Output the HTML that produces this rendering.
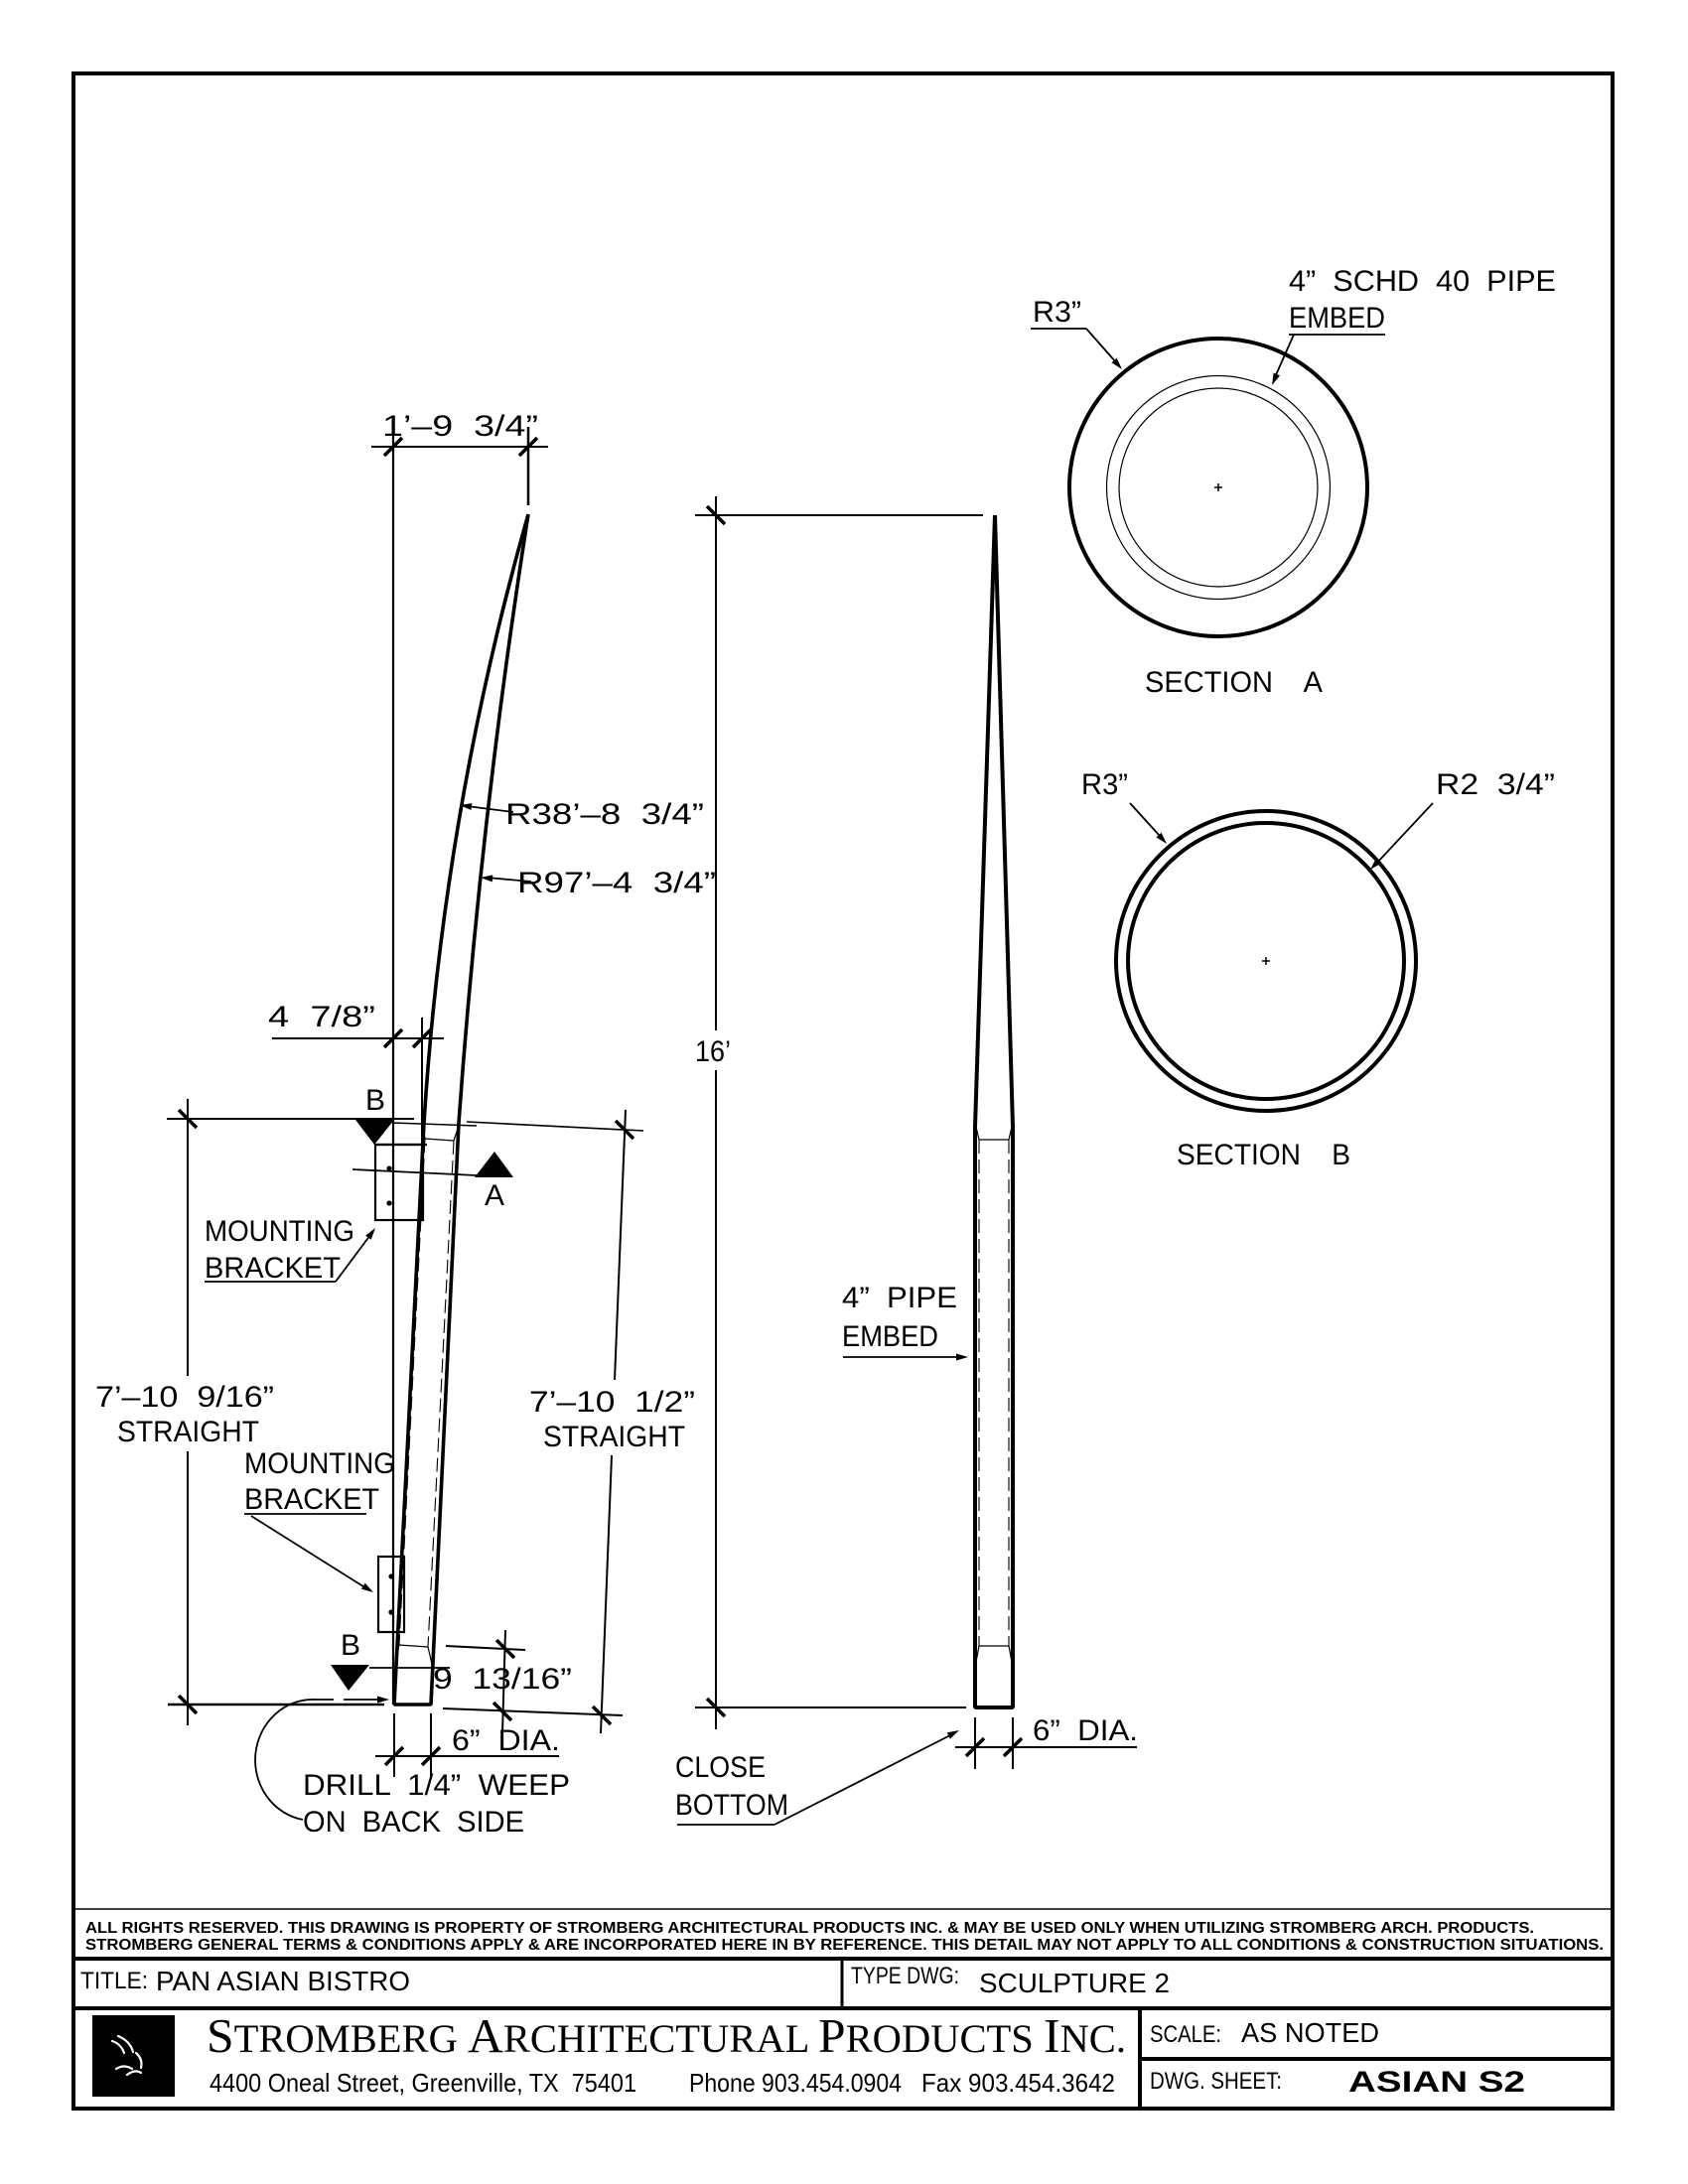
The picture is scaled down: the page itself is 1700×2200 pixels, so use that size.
<!DOCTYPE html>
<html><head><meta charset="utf-8"><style>
html,body{margin:0;padding:0;background:#fff;}
svg{display:block;}
.t{font-family:"Liberation Sans",sans-serif;font-size:30px;fill:#000;stroke:none;white-space:pre;}
.tb{font-family:"Liberation Sans",sans-serif;fill:#000;stroke:none;white-space:pre;}
</style></head><body>
<svg width="1700" height="2200" viewBox="0 0 1700 2200" xmlns="http://www.w3.org/2000/svg" xml:space="preserve">
<rect width="1700" height="2200" fill="#fff"/>
<g fill="none" stroke="#000" stroke-width="2">

<!-- Border and title block -->
<rect x="74" y="74" width="1550" height="2050" stroke-width="4"/>
<line x1="74" y1="1923" x2="1624" y2="1923" stroke-width="1.6"/>
<line x1="74" y1="1973" x2="1624" y2="1973" stroke-width="4"/>
<line x1="74" y1="2023" x2="1624" y2="2023" stroke-width="4"/>
<line x1="848" y1="1973" x2="848" y2="2023" stroke-width="3"/>
<line x1="1148" y1="2023" x2="1148" y2="2124" stroke-width="4"/>
<line x1="1148" y1="2074" x2="1624" y2="2074" stroke-width="4"/>

<!-- ============ LEFT DRAWING ============ -->
<line x1="396" y1="430" x2="396" y2="1717" stroke-width="2.2"/>
<line x1="374" y1="450" x2="552" y2="450"/>
<line x1="532" y1="430" x2="532" y2="509" stroke-width="2.5"/>
<line x1="387" y1="459" x2="405" y2="441" stroke-width="3.5"/>
<line x1="523" y1="459" x2="541" y2="441" stroke-width="3.5"/>

<path d="M 532 518 A 2907 2907 0 0 0 427 1131 L 397 1717 L 434 1717 L 462 1131 A 7311 7311 0 0 1 532 518" stroke-width="3.6" stroke-linejoin="bevel"/>
<line x1="395" y1="1131" x2="480" y2="1134" stroke-width="1.4"/>
<line x1="470" y1="1130" x2="648" y2="1139" stroke-width="1.6"/>
<line x1="426" y1="1136" x2="428" y2="1147" stroke-width="1.2"/>
<line x1="461" y1="1137" x2="457" y2="1149" stroke-width="1.2"/>
<line x1="428" y1="1147" x2="457" y2="1149" stroke-width="1.2"/>
<line x1="428" y1="1147" x2="402" y2="1657" stroke-width="1.1" stroke-dasharray="14,6"/>
<line x1="457" y1="1149" x2="431" y2="1659" stroke-width="1.1" stroke-dasharray="14,6"/>
<line x1="402" y1="1657" x2="431" y2="1659" stroke-width="1.2"/>
<line x1="402" y1="1657" x2="398" y2="1676" stroke-width="1.2"/>
<line x1="431" y1="1659" x2="435" y2="1676" stroke-width="1.2"/>

<!-- 4 7/8" dim -->
<line x1="274" y1="1046" x2="447" y2="1046"/>
<line x1="425" y1="1025" x2="425" y2="1229"/>
<line x1="387" y1="1055" x2="405" y2="1037" stroke-width="3.5"/>
<line x1="416" y1="1055" x2="434" y2="1037" stroke-width="3.5"/>

<!-- 7'-10 9/16" dim -->
<line x1="168" y1="1127" x2="417" y2="1127"/>
<line x1="169" y1="1717" x2="387" y2="1717" stroke-width="2.4"/>
<line x1="189" y1="1107" x2="189" y2="1386"/>
<line x1="189" y1="1462" x2="189" y2="1738"/>
<line x1="180" y1="1118" x2="198" y2="1136" stroke-width="3.5"/>
<line x1="180" y1="1708" x2="198" y2="1726" stroke-width="3.5"/>

<!-- 7'-10 1/2" dim -->
<line x1="630" y1="1118" x2="619" y2="1390"/>
<line x1="616" y1="1466" x2="605" y2="1746"/>
<line x1="620" y1="1129" x2="638" y2="1147" stroke-width="3.5"/>
<line x1="597" y1="1719" x2="615" y2="1737" stroke-width="3.5"/>

<!-- 9 13/16" dim -->
<line x1="449" y1="1658" x2="529" y2="1662"/>
<line x1="446" y1="1721" x2="627" y2="1728"/>
<line x1="509" y1="1642" x2="506" y2="1746"/>
<line x1="500" y1="1652" x2="518" y2="1670" stroke-width="3.5"/>
<line x1="497" y1="1715" x2="515" y2="1733" stroke-width="3.5"/>

<!-- 6" DIA left -->
<line x1="397" y1="1726" x2="397" y2="1790"/>
<line x1="434" y1="1726" x2="434" y2="1790"/>
<line x1="378" y1="1769" x2="563" y2="1769"/>
<line x1="388" y1="1778" x2="406" y2="1760" stroke-width="3.5"/>
<line x1="425" y1="1778" x2="443" y2="1760" stroke-width="3.5"/>

<!-- brackets -->
<rect x="378" y="1153" width="48" height="76" stroke-width="2.2"/>
<line x1="378" y1="1153" x2="430" y2="1153" stroke-width="2.2"/>
<rect x="381" y="1568" width="26" height="76" stroke-width="2.2"/>

<!-- section lines -->
<line x1="372" y1="1680" x2="453" y2="1680" stroke-width="1.8"/>
<line x1="355" y1="1178" x2="480" y2="1184" stroke-width="1.8"/>

<!-- leaders -->
<line x1="517" y1="818" x2="470" y2="812" stroke-width="1.8"/>
<line x1="535" y1="888" x2="490" y2="884" stroke-width="1.8"/>
<line x1="206" y1="1291" x2="338" y2="1291" stroke-width="1.8"/>
<line x1="338" y1="1291" x2="373" y2="1244" stroke-width="1.8"/>
<line x1="246" y1="1525" x2="369" y2="1525" stroke-width="1.8"/>
<line x1="253" y1="1527" x2="369" y2="1600" stroke-width="1.8"/>
<path d="M 305 1833 A 58 61 0 0 1 318 1712 L 336 1712 M 346 1712 L 384 1712" stroke-width="1.8"/>

<!-- ============ MIDDLE DRAWING ============ -->
<path d="M 1002 519 L 982 1135 L 982 1720 L 1020 1720 L 1020 1135 Z" stroke-width="4" stroke-linejoin="bevel"/>
<line x1="983" y1="1135" x2="986" y2="1148" stroke-width="1.2"/>
<line x1="1019" y1="1135" x2="1016" y2="1148" stroke-width="1.2"/>
<line x1="986" y1="1148" x2="1016" y2="1148" stroke-width="1.2"/>
<line x1="986" y1="1148" x2="986" y2="1658" stroke-width="1.1" stroke-dasharray="14,6"/>
<line x1="1016" y1="1148" x2="1016" y2="1658" stroke-width="1.1" stroke-dasharray="14,6"/>
<line x1="986" y1="1658" x2="1016" y2="1658" stroke-width="1.2"/>
<line x1="986" y1="1658" x2="983" y2="1674" stroke-width="1.2"/>
<line x1="1016" y1="1658" x2="1019" y2="1674" stroke-width="1.2"/>

<!-- 16' dim -->
<line x1="700" y1="519" x2="990" y2="519"/>
<line x1="700" y1="1720" x2="973" y2="1720"/>
<line x1="721" y1="500" x2="721" y2="1038"/>
<line x1="721" y1="1078" x2="721" y2="1742"/>
<line x1="712" y1="510" x2="730" y2="528" stroke-width="3.5"/>
<line x1="712" y1="1711" x2="730" y2="1729" stroke-width="3.5"/>

<!-- 6" DIA middle -->
<line x1="982" y1="1730" x2="982" y2="1782"/>
<line x1="1020" y1="1730" x2="1020" y2="1782"/>
<line x1="962" y1="1760" x2="1145" y2="1760"/>
<line x1="973" y1="1769" x2="991" y2="1751" stroke-width="3.5"/>
<line x1="1011" y1="1769" x2="1029" y2="1751" stroke-width="3.5"/>

<line x1="849" y1="1367" x2="965" y2="1367" stroke-width="1.8"/>
<line x1="682" y1="1838" x2="780" y2="1838" stroke-width="1.8"/>
<line x1="780" y1="1838" x2="957" y2="1748" stroke-width="1.8"/>

<!-- ============ SECTIONS ============ -->
<circle cx="1227" cy="491" r="150" stroke-width="4"/>
<circle cx="1227" cy="491" r="112.5" stroke-width="1.2"/>
<circle cx="1227" cy="491" r="100" stroke-width="1.2"/>
<line x1="1223" y1="491" x2="1231" y2="491" stroke-width="1.5"/>
<line x1="1227" y1="487" x2="1227" y2="495" stroke-width="1.5"/>
<line x1="1038" y1="331" x2="1094" y2="331" stroke-width="1.8"/>
<line x1="1094" y1="331" x2="1124" y2="365" stroke-width="1.8"/>
<line x1="1298" y1="337" x2="1395" y2="337" stroke-width="1.8"/>
<line x1="1303" y1="337" x2="1284" y2="380" stroke-width="1.8"/>

<circle cx="1275" cy="968" r="151" stroke-width="4"/>
<circle cx="1275" cy="968" r="139" stroke-width="4"/>
<line x1="1271" y1="968" x2="1279" y2="968" stroke-width="1.5"/>
<line x1="1275" y1="964" x2="1275" y2="972" stroke-width="1.5"/>
<line x1="1138" y1="809" x2="1168" y2="842" stroke-width="1.8"/>
<line x1="1443" y1="809" x2="1386" y2="870" stroke-width="1.8"/>
</g>

<g fill="#000" stroke="none">
<polygon points="358,1128 397,1128 377,1153"/>
<polygon points="333,1677 372,1677 351,1703"/>
<polygon points="478,1186 517,1186 498,1160"/>
<circle cx="392" cy="1177" r="2.6"/>
<circle cx="392" cy="1212" r="2.6"/>
<circle cx="394" cy="1588" r="2.6"/>
<circle cx="394" cy="1624" r="2.6"/>
<polygon points="463,811 475.4,809.1 474.4,816"/>
<polygon points="484,884 496.3,881.4 495.7,888.4"/>
<polygon points="378,1237 373.7,1248.7 368.1,1244.6"/>
<polygon points="376,1604 363.9,1600.6 367.7,1594.6"/>
<polygon points="392,1712 380,1708.5 380,1715.5"/>
<polygon points="975,1367 963,1363.5 963,1370.5"/>
<polygon points="966,1743 956.9,1751.6 953.7,1745.3"/>
<polygon points="1130,372 1119.5,365.3 1124.7,360.7"/>
<polygon points="1281,388 1282.6,375.6 1289,378.4"/>
<polygon points="1175,850 1164.4,843.4 1169.6,838.8"/>
<polygon points="1380,876 1385.7,864.9 1390.8,869.7"/>
<rect x="93" y="2030" width="83" height="82"/>
</g>
<g fill="none" stroke="#fff" stroke-width="2.2" stroke-linecap="round">
<path d="M 113 2056 q 9 3 12 12"/>
<path d="M 119 2051 q 12 5 15 16"/>
<path d="M 137 2068 q 7 6 5 15"/>
<path d="M 117 2084 q 8 -5 16 0"/>
<path d="M 128 2090 q 8 -6 14 -2"/>
</g>

<!-- CAD text -->
<g>
<text class="t" x="385" y="439" textLength="157" lengthAdjust="spacingAndGlyphs">1’–9  3/4”</text>
<text class="t" x="509" y="830" textLength="200" lengthAdjust="spacingAndGlyphs">R38’–8  3/4”</text>
<text class="t" x="521" y="899" textLength="200" lengthAdjust="spacingAndGlyphs">R97’–4  3/4”</text>
<text class="t" x="270" y="1034" textLength="108" lengthAdjust="spacingAndGlyphs">4  7/8”</text>
<text class="t" x="368" y="1118">B</text>
<text class="t" x="488" y="1214">A</text>
<text class="t" x="206" y="1250" textLength="151" lengthAdjust="spacingAndGlyphs">MOUNTING</text>
<text class="t" x="206" y="1287" textLength="137" lengthAdjust="spacingAndGlyphs">BRACKET</text>
<text class="t" x="96" y="1417" textLength="180" lengthAdjust="spacingAndGlyphs">7’–10  9/16”</text>
<text class="t" x="118" y="1452" textLength="143" lengthAdjust="spacingAndGlyphs">STRAIGHT</text>
<text class="t" x="246" y="1484" textLength="152" lengthAdjust="spacingAndGlyphs">MOUNTING</text>
<text class="t" x="246" y="1520" textLength="136" lengthAdjust="spacingAndGlyphs">BRACKET</text>
<text class="t" x="533" y="1422" textLength="167" lengthAdjust="spacingAndGlyphs">7’–10  1/2”</text>
<text class="t" x="547" y="1457" textLength="143" lengthAdjust="spacingAndGlyphs">STRAIGHT</text>
<text class="t" x="343" y="1667">B</text>
<text class="t" x="436" y="1701" textLength="140" lengthAdjust="spacingAndGlyphs">9  13/16”</text>
<text class="t" x="455" y="1763" textLength="109" lengthAdjust="spacingAndGlyphs">6”  DIA.</text>
<text class="t" x="305" y="1808" textLength="269" lengthAdjust="spacingAndGlyphs">DRILL  1/4”  WEEP</text>
<text class="t" x="305" y="1845" textLength="223" lengthAdjust="spacingAndGlyphs">ON  BACK  SIDE</text>
<text class="t" x="700" y="1069" textLength="36" lengthAdjust="spacingAndGlyphs">16’</text>
<text class="t" x="848" y="1317" textLength="116" lengthAdjust="spacingAndGlyphs">4”  PIPE</text>
<text class="t" x="848" y="1356" textLength="97" lengthAdjust="spacingAndGlyphs">EMBED</text>
<text class="t" x="680" y="1790" textLength="91" lengthAdjust="spacingAndGlyphs">CLOSE</text>
<text class="t" x="680" y="1828" textLength="114" lengthAdjust="spacingAndGlyphs">BOTTOM</text>
<text class="t" x="1040" y="1753" textLength="106" lengthAdjust="spacingAndGlyphs">6”  DIA.</text>
<text class="t" x="1040" y="324" textLength="49" lengthAdjust="spacingAndGlyphs">R3”</text>
<text class="t" x="1298" y="293" textLength="269" lengthAdjust="spacingAndGlyphs">4”  SCHD  40  PIPE</text>
<text class="t" x="1298" y="330" textLength="97" lengthAdjust="spacingAndGlyphs">EMBED</text>
<text class="t" x="1153" y="697" textLength="179" lengthAdjust="spacingAndGlyphs">SECTION    A</text>
<text class="t" x="1089" y="800" textLength="47" lengthAdjust="spacingAndGlyphs">R3”</text>
<text class="t" x="1446" y="800" textLength="120" lengthAdjust="spacingAndGlyphs">R2  3/4”</text>
<text class="t" x="1185" y="1173" textLength="175" lengthAdjust="spacingAndGlyphs">SECTION    B</text>
</g>

<!-- title block text -->
<text class="tb" x="86" y="1947" font-size="15.5" font-weight="bold" textLength="1459" lengthAdjust="spacingAndGlyphs">ALL RIGHTS RESERVED. THIS DRAWING IS PROPERTY OF STROMBERG ARCHITECTURAL PRODUCTS INC. &amp; MAY BE USED ONLY WHEN UTILIZING STROMBERG ARCH. PRODUCTS.</text>
<text class="tb" x="86" y="1964" font-size="15.5" font-weight="bold" textLength="1529" lengthAdjust="spacingAndGlyphs">STROMBERG GENERAL TERMS &amp; CONDITIONS APPLY &amp; ARE INCORPORATED HERE IN BY REFERENCE. THIS DETAIL MAY NOT APPLY TO ALL CONDITIONS &amp; CONSTRUCTION SITUATIONS.</text>
<text class="tb" x="81" y="2003" font-size="24" textLength="68" lengthAdjust="spacingAndGlyphs">TITLE:</text>
<text class="tb" x="157" y="2005" font-size="28" stroke="#000" stroke-width="0.5" textLength="256" lengthAdjust="spacingAndGlyphs">PAN ASIAN BISTRO</text>
<text class="tb" x="857" y="1998" font-size="24" textLength="109" lengthAdjust="spacingAndGlyphs">TYPE DWG:</text>
<text class="tb" x="986" y="2007" font-size="28" stroke="#000" stroke-width="0.5" textLength="192" lengthAdjust="spacingAndGlyphs">SCULPTURE 2</text>
<text font-family="'Liberation Serif',serif" x="208" y="2067" textLength="926" lengthAdjust="spacingAndGlyphs" fill="#000"><tspan font-size="49">S</tspan><tspan font-size="40">TROMBERG </tspan><tspan font-size="49">A</tspan><tspan font-size="40">RCHITECTURAL </tspan><tspan font-size="49">P</tspan><tspan font-size="40">RODUCTS </tspan><tspan font-size="49">I</tspan><tspan font-size="40">NC.</tspan></text>
<text class="tb" x="211" y="2107" font-size="26" stroke="#000" stroke-width="0.4" textLength="430" lengthAdjust="spacingAndGlyphs">4400 Oneal Street, Greenville, TX  75401</text>
<text class="tb" x="694" y="2107" font-size="26" stroke="#000" stroke-width="0.4" textLength="214" lengthAdjust="spacingAndGlyphs">Phone 903.454.0904</text>
<text class="tb" x="928" y="2107" font-size="26" stroke="#000" stroke-width="0.4" textLength="195" lengthAdjust="spacingAndGlyphs">Fax 903.454.3642</text>
<text class="tb" x="1158" y="2057" font-size="24" textLength="72" lengthAdjust="spacingAndGlyphs">SCALE:</text>
<text class="tb" x="1250" y="2057" font-size="28" stroke="#000" stroke-width="0.5" textLength="139" lengthAdjust="spacingAndGlyphs">AS NOTED</text>
<text class="tb" x="1158" y="2104" font-size="24" textLength="133" lengthAdjust="spacingAndGlyphs">DWG. SHEET:</text>
<text class="tb" x="1358" y="2107" font-size="30" font-weight="bold" stroke="#000" stroke-width="1.6" textLength="178" lengthAdjust="spacingAndGlyphs">ASIAN S2</text>
</svg>
</body></html>
